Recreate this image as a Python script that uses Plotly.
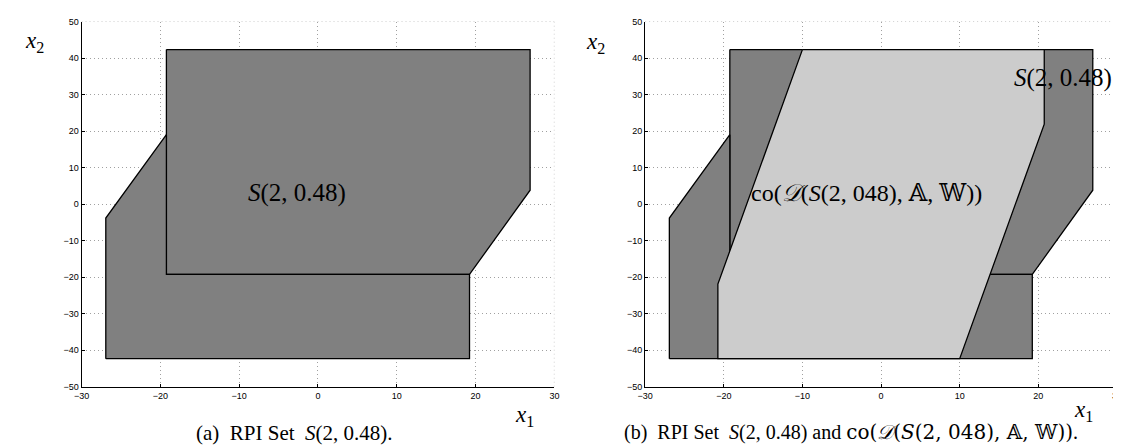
import plotly.graph_objects as go

# Polygon vertices (x1, x2)
# S(2,0.48) drawn as two dark pieces
s_upper_x = [-19.23, 26.92, 26.92, 19.23, -19.23, -19.23]
s_upper_y = [42.31, 42.31, 3.8, -19.23, -19.23, 42.31]
s_lower_x = [-26.92, 19.23, 19.23, -19.23, -19.23, -26.92, -26.92]
s_lower_y = [-42.31, -42.31, -19.23, -19.23, 19.0, -3.8, -42.31]
# co(D(S(2,0.48),A,W)) light polygon
co_x = [-10.0, 20.75, 20.75, 10.0, -20.75, -20.75, -10.0]
co_y = [42.31, 42.31, 21.9, -42.31, -42.31, -21.9, 42.31]

x_ticks = [-30, -20, -10, 0, 10, 20, 30]
y_ticks = [-50, -40, -30, -20, -10, 0, 10, 20, 30, 40, 50]
x_range = [-30, 30]
y_range = [-50, 50]

DARK = "#808080"
LIGHT = "#cccccc"
GRID = "#a0a0a0"
SERIF = "Liberation Serif, DejaVu Serif, serif"

W_PLOT = 1109.0  # plotting width (1121 minus right margin)

fig = go.Figure()

def poly(x, y, color, xa, ya):
    fig.add_trace(go.Scatter(x=x, y=y, mode="lines", fill="toself", fillcolor=color,
                             line=dict(color="black", width=1.3), xaxis=xa, yaxis=ya,
                             hoverinfo="skip", showlegend=False))

poly(s_upper_x, s_upper_y, DARK, "x", "y")
poly(s_lower_x, s_lower_y, DARK, "x", "y")
poly(s_upper_x, s_upper_y, DARK, "x2", "y2")
poly(s_lower_x, s_lower_y, DARK, "x2", "y2")
poly(co_x, co_y, LIGHT, "x2", "y2")

ax_common = dict(showline=True, linecolor="black", linewidth=1, mirror=False,
                 ticks="inside", ticklen=3, tickcolor="black",
                 showgrid=True, gridcolor=GRID, griddash="1px,3px", gridwidth=1,
                 zeroline=False, tickfont=dict(family="Liberation Sans, Arial", size=9, color="black"),
                 fixedrange=True)

def lab(v):
    return [str(t).replace("-", "\u2212") for t in v]

yd = [0.1409, 0.9804]
fig.update_layout(
    width=1121, height=445, margin=dict(l=0, r=12, t=0, b=0),
    paper_bgcolor="white", plot_bgcolor="white",
    xaxis=dict(domain=[66 / W_PLOT, 542.3 / W_PLOT], range=x_range, tickvals=x_ticks,
               ticktext=lab(x_ticks), anchor="y", **ax_common),
    yaxis=dict(domain=yd, range=y_range, tickvals=y_ticks, ticktext=lab(y_ticks),
               anchor="x", **ax_common),
    xaxis2=dict(domain=[633.7 / W_PLOT, 1.0], range=x_range, tickvals=x_ticks,
                ticktext=lab(x_ticks), anchor="y2", **ax_common),
    yaxis2=dict(domain=yd, range=y_range, tickvals=y_ticks, ticktext=lab(y_ticks),
                anchor="x2", **ax_common),
)

# dotted top/right box edges
for xr, yr in (("x", "y"), ("x2", "y2")):
    fig.add_shape(type="line", xref=xr, yref=yr, x0=-30, x1=30, y0=50, y1=50,
                  line=dict(color=GRID, width=1, dash="1px,3px"), layer="below")
    fig.add_shape(type="line", xref=xr, yref=yr, x0=30, x1=30, y0=-50, y1=50,
                  line=dict(color=GRID, width=1, dash="1px,3px"), layer="below")

def ann(text, x, y, xref, yref, size, xanchor="center"):
    fig.add_annotation(text=text, x=x, y=y, xref=xref, yref=yref, showarrow=False,
                       font=dict(family=SERIF, size=size, color="black"),
                       xanchor=xanchor, yanchor="middle")

CO = "co(<i>\U0001D49F</i>(<i>S</i>(2, 048), \U0001D538, \U0001D54E))"

ann("<i>S</i>(2, 0.48)", -2.6, 3.1, "x", "y", 25)
ann("<i>S</i>(2, 0.48)", 29.6, 34.4, "x2", "y2", 25, xanchor="right")
ann(CO, -1.9, 3.1, "x2", "y2", 24)

ann("<i>x</i><sub>2</sub>", 0.017, 0.933, "paper", "paper", 23)
ann("<i>x</i><sub>2</sub>", 0.526, 0.930, "paper", "paper", 23)
ann("<i>x</i><sub>1</sub>", 0.462, 0.074, "paper", "paper", 23)
ann("<i>x</i><sub>1</sub>", 0.9697, 0.0854, "paper", "paper", 23)

ann("(a)  RPI Set  <i>S</i>(2, 0.48).", 0.2525, 0.0337, "paper", "paper", 21)
ann("(b)  RPI Set  <i>S</i>(2, 0.48) and "
    "<span style='font-family:DejaVu Serif'>" + CO + "</span>.",
    0.758, 0.036, "paper", "paper", 20)

fig.write_html("out.html")
